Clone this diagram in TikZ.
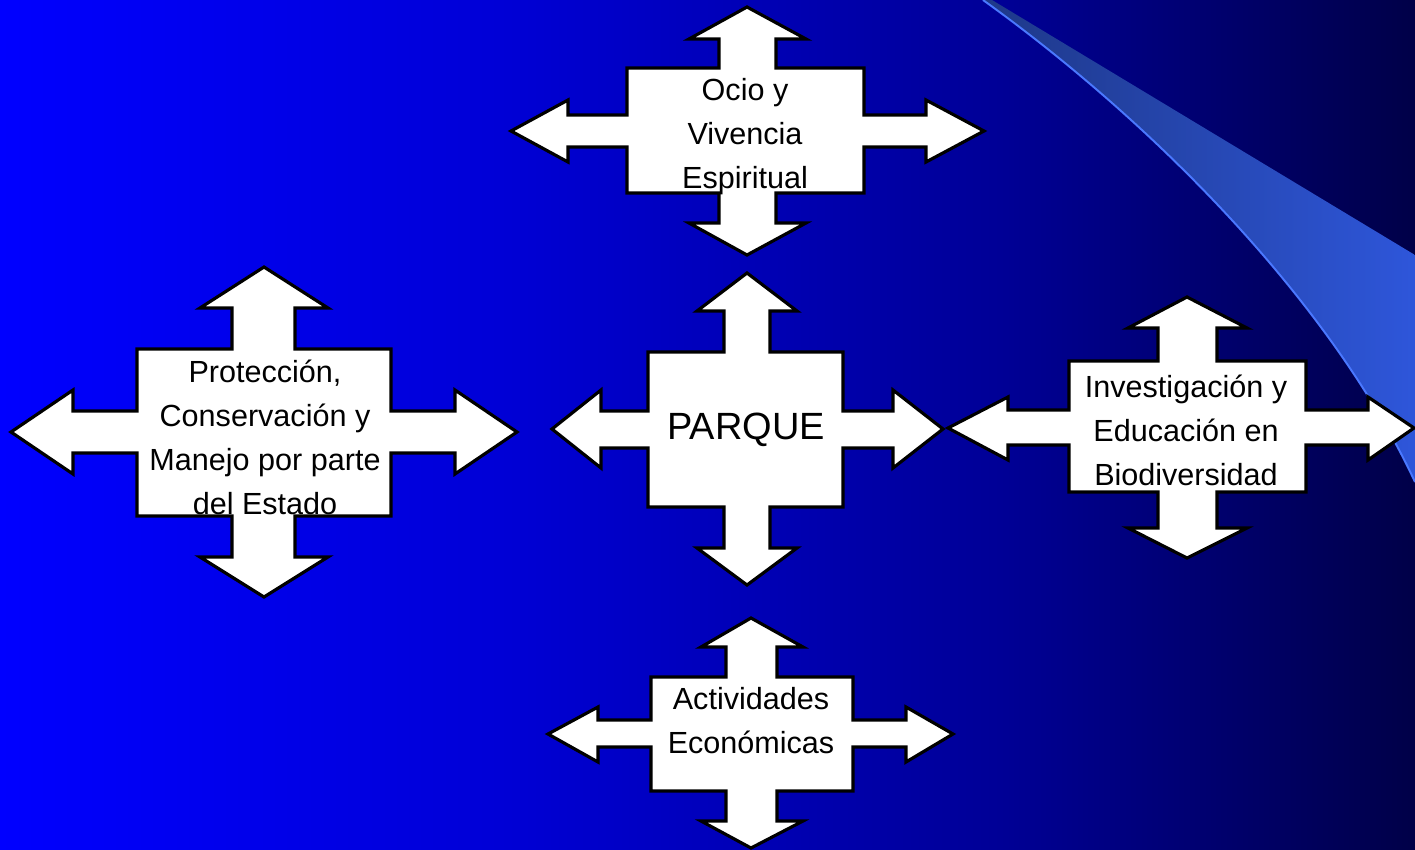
\documentclass[tikz,border=0pt]{standalone}
\usepackage{fontspec}
\setmainfont{Liberation Sans}
\usepackage{tikz}
\usetikzlibrary{positioning}

\definecolor{bgA}{RGB}{0,0,255}
\definecolor{bgB}{RGB}{0,0,214}
\definecolor{bgC}{RGB}{0,0,150}
\definecolor{bgD}{RGB}{0,0,72}
\definecolor{swooshL}{RGB}{30,56,136}
\definecolor{swooshR}{RGB}{46,86,218}
\definecolor{swooshEdge}{RGB}{74,120,255}

\pgfdeclarehorizontalshading{slidebg}{100bp}{color(0bp)=(bgA); color(25bp)=(bgA);
  color(42.67bp)=(bgB); color(60.34bp)=(bgC); color(75bp)=(bgD); color(100bp)=(bgD)}

\tikzset{quad/.style={draw=black, fill=white, line width=1.8pt, line join=miter}}
\tikzset{lbl/.style={inner sep=0pt, align=center, font=\fontsize{17.4}{25}\selectfont}}

\begin{document}
\begin{tikzpicture}[x=0.02cm, y=-0.02cm]
\useasboundingbox (0,0) rectangle (1415,849);
\shade[shading=slidebg] (0,0) rectangle (1415,849);
% swoosh
\shade[left color=swooshL, right color=swooshR] (983,0) .. controls (1150,120) and (1330,300) .. (1415,482) -- (1415,255) -- (992,0) -- cycle;
\draw[swooshEdge, line width=1.1pt] (983,0) .. controls (1150,120) and (1330,300) .. (1415,482);
% Ocio
\draw[quad] (747,7) -- (806,39) -- (776,39) -- (776,68) -- (864,68) -- (864,115) -- (926,115) -- (926,100) -- (984,131) -- (926,162) -- (926,147) -- (864,147) -- (864,193) -- (776,193) -- (776,223) -- (806,223) -- (747,255) -- (689,223) -- (719,223) -- (719,193) -- (627,193) -- (627,147) -- (568,147) -- (568,162) -- (511,131) -- (568,100) -- (568,115) -- (627,115) -- (627,68) -- (719,68) -- (719,39) -- (689,39) -- cycle;
% Proteccion
\draw[quad] (264,267) -- (328,308) -- (295,308) -- (295,349) -- (391,349) -- (391,411) -- (455,411) -- (455,390) -- (517,432) -- (455,474) -- (455,453) -- (391,453) -- (391,516) -- (295,516) -- (295,557) -- (328,557) -- (264,597) -- (200,557) -- (232,557) -- (232,516) -- (137,516) -- (137,453) -- (73,453) -- (73,474) -- (11,432) -- (73,390) -- (73,411) -- (137,411) -- (137,349) -- (232,349) -- (232,308) -- (200,308) -- cycle;
% Parque
\draw[quad] (747,273) -- (797,311) -- (770,311) -- (770,352) -- (843,352) -- (843,411) -- (893,411) -- (893,390) -- (943,429) -- (893,468) -- (893,448) -- (843,448) -- (843,507) -- (770,507) -- (770,548) -- (797,548) -- (747,585) -- (697,548) -- (724,548) -- (724,507) -- (648,507) -- (648,448) -- (601,448) -- (601,468) -- (552,429) -- (601,390) -- (601,411) -- (648,411) -- (648,352) -- (724,352) -- (724,311) -- (697,311) -- cycle;
% Investigacion
\draw[quad] (1187,297) -- (1247,328) -- (1217,328) -- (1217,361) -- (1306,361) -- (1306,410) -- (1368,410) -- (1368,397) -- (1414,428) -- (1368,460) -- (1368,445) -- (1306,445) -- (1306,492) -- (1217,492) -- (1217,528) -- (1247,528) -- (1187,558) -- (1128,528) -- (1158,528) -- (1158,492) -- (1069,492) -- (1069,445) -- (1008,445) -- (1008,460) -- (948,428) -- (1008,397) -- (1008,410) -- (1069,410) -- (1069,361) -- (1158,361) -- (1158,328) -- (1128,328) -- cycle;
% Actividades
\draw[quad] (751,618) -- (803,647) -- (777,647) -- (777,677) -- (853,677) -- (853,720) -- (906,720) -- (906,707) -- (953,734) -- (906,762) -- (906,747) -- (853,747) -- (853,791) -- (777,791) -- (777,821) -- (803,821) -- (751,848) -- (701,821) -- (726,821) -- (726,791) -- (651,791) -- (651,747) -- (598,747) -- (598,762) -- (548,734) -- (598,707) -- (598,720) -- (651,720) -- (651,677) -- (726,677) -- (726,647) -- (701,647) -- cycle;
% labels
\node[lbl] (ocio) at (745,137) {Ocio y\\Vivencia\\Espiritual};
\node[lbl] (proteccion) at (265,437) {Protección,\\Conservación y\\Manejo por parte\\del Estado};
\node[lbl, font=\fontsize{21.6}{25}\selectfont] (parque) at (746,430) {PARQUE};
\node[lbl] (investigacion) at (1186,430) {Investigación y\\Educación en\\Biodiversidad};
\node[lbl] (actividades) at (751,721) {Actividades\\Económicas};
\end{tikzpicture}
\end{document}
